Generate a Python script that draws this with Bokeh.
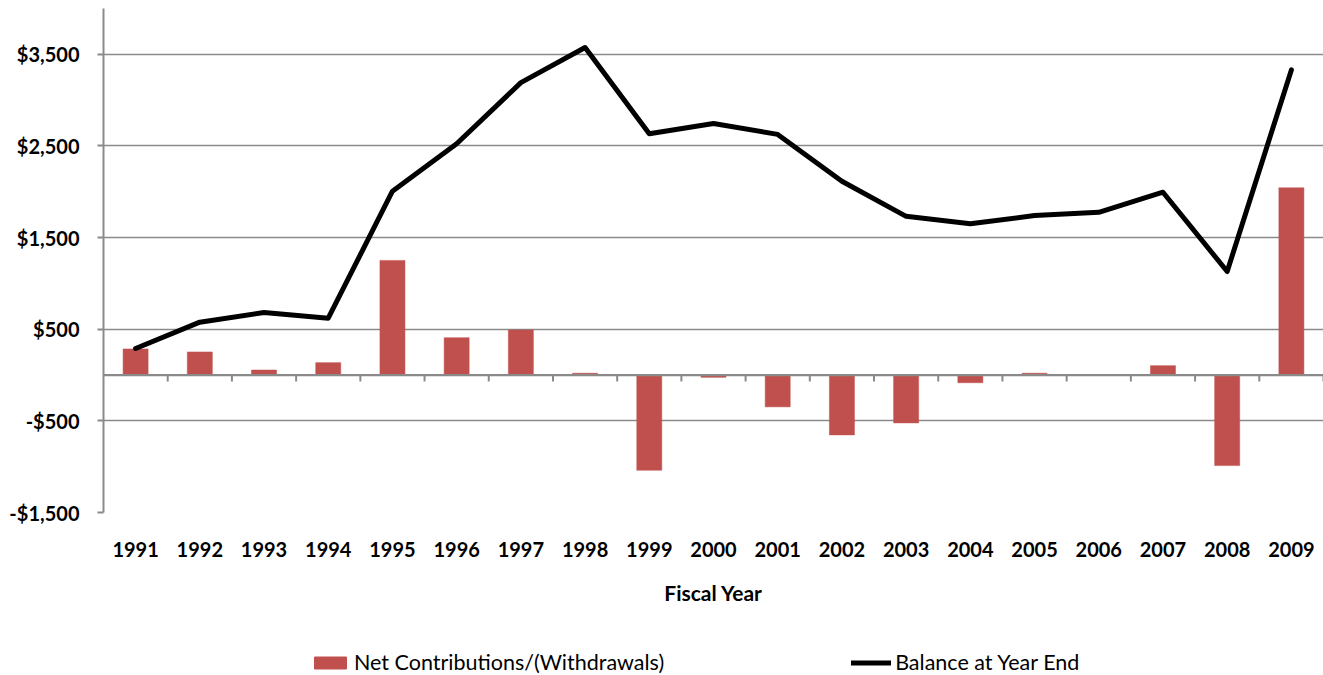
from bokeh.plotting import figure
from bokeh.layouts import column
from bokeh.models import (ColumnDataSource, Range1d, FixedTicker, Span, Legend, LegendItem)
from bokeh.transform import dodge
from bokeh.embed import file_html
from bokeh.resources import INLINE

years = ["1991", "1992", "1993", "1994", "1995", "1996", "1997", "1998", "1999", "2000",
         "2001", "2002", "2003", "2004", "2005", "2006", "2007", "2008", "2009"]
net_contrib = [285, 252, 55, 135, 1251, 408, 492, 20, -1039, -25,
               -347, -653, -522, -84, 20, 0, 102, -988, 2043]
balance = [290, 577, 682, 620, 2006, 2524, 3191, 3574, 2633, 2746,
           2626, 2115, 1732, 1652, 1740, 1776, 1995, 1130, 3330]
y_ticks = [-1500, -500, 500, 1500, 2500, 3500]
y_tick_labels = ["-$1,500", "-$500", "$500", "$1,500", "$2,500", "$3,500"]
series_names = ["Net Contributions/(Withdrawals)", "Balance at Year End"]

FONT = "Lato"
GRAY = "#8a8a8a"
RED = "#C0504D"

src = ColumnDataSource(dict(year=years, net=net_contrib, bal=balance,
                            y0=[0] * len(years), y1=[-70] * len(years)))

p = figure(width=1323, height=640, x_range=years, y_range=Range1d(-1500, 4000),
           output_backend="svg", toolbar_location=None,
           min_border_left=103, min_border_right=0, min_border_top=8, min_border_bottom=128)
p.outline_line_color = None
p.background_fill_color = "white"
p.border_fill_color = "white"

# grid
p.xgrid.grid_line_color = None
p.ygrid.grid_line_color = GRAY
p.ygrid.grid_line_width = 1.6
p.ygrid.ticker = FixedTicker(ticks=y_ticks)

# y axis
p.yaxis.ticker = FixedTicker(ticks=y_ticks)
p.yaxis.major_label_overrides = {t: l for t, l in zip(y_ticks, y_tick_labels)}
p.yaxis.axis_line_color = GRAY
p.yaxis.axis_line_width = 2
p.yaxis.major_tick_line_color = GRAY
p.yaxis.major_tick_line_width = 2
p.yaxis.major_tick_out = 6
p.yaxis.major_tick_in = 0
p.yaxis.minor_tick_line_color = None
p.yaxis.major_label_standoff = 18
p.yaxis.major_label_text_font = FONT
p.yaxis.major_label_text_font_style = "bold"
p.yaxis.major_label_text_font_size = "20px"
p.yaxis.major_label_text_color = "black"

# x axis (labels only; zero line drawn as span)
p.xaxis.axis_line_color = None
p.xaxis.major_tick_line_color = None
p.xaxis.minor_tick_line_color = None
p.xaxis.major_label_standoff = 23
p.xaxis.major_label_text_font = FONT
p.xaxis.major_label_text_font_style = "bold"
p.xaxis.major_label_text_font_size = "20px"
p.xaxis.major_label_text_color = "black"
p.xaxis.axis_label = "Fiscal Year"
p.xaxis.axis_label_text_font = FONT
p.xaxis.axis_label_text_font_style = "bold"
p.xaxis.axis_label_text_font_size = "21px"
p.xaxis.axis_label_text_color = "black"
p.xaxis.axis_label_standoff = 20

p.vbar(x="year", top="net", width=0.39, source=src,
       fill_color=RED, line_color=RED, line_width=0.5)

# zero line with category-boundary ticks
zero = Span(location=0, dimension="width", line_color=GRAY, line_width=2.2)
p.add_layout(zero)
p.segment(x0=dodge("year", 0.5, range=p.x_range), x1=dodge("year", 0.5, range=p.x_range),
          y0="y0", y1="y1", source=src, line_color=GRAY, line_width=2)

p.line(x="year", y="bal", source=src, line_color="black", line_width=5,
       line_join="round", line_cap="round")

# legend strip: a second figure whose glyphs (same data) lie outside its view
pl = figure(width=1323, height=35, x_range=years, y_range=Range1d(100000, 100001),
            x_axis_type=None, y_axis_type=None,
            output_backend="svg", toolbar_location=None,
            min_border_left=0, min_border_right=0, min_border_top=0, min_border_bottom=0)
pl.grid.grid_line_color = None
pl.outline_line_color = None
pl.border_fill_color = "white"
lb = pl.vbar(x="year", top="net", width=0.39, source=src, fill_color=RED, line_color=RED)
ll = pl.line(x="year", y="bal", source=src, line_color="black", line_width=5, line_cap="round")

legend = Legend(items=[LegendItem(label=series_names[0], renderers=[lb]),
                       LegendItem(label=series_names[1], renderers=[ll])],
                orientation="horizontal", location=(207, 0))
legend.label_text_font = FONT
legend.label_text_font_size = "21.5px"
legend.label_text_color = "black"
legend.glyph_width = 40
legend.glyph_height = 15
legend.label_standoff = 4
legend.spacing = 187
legend.padding = 2
legend.margin = 0
legend.border_line_color = None
legend.background_fill_alpha = 0
pl.add_layout(legend, "center")

layout = column(p, pl, spacing=0)
open("out.html", "w").write(file_html(layout, INLINE))
